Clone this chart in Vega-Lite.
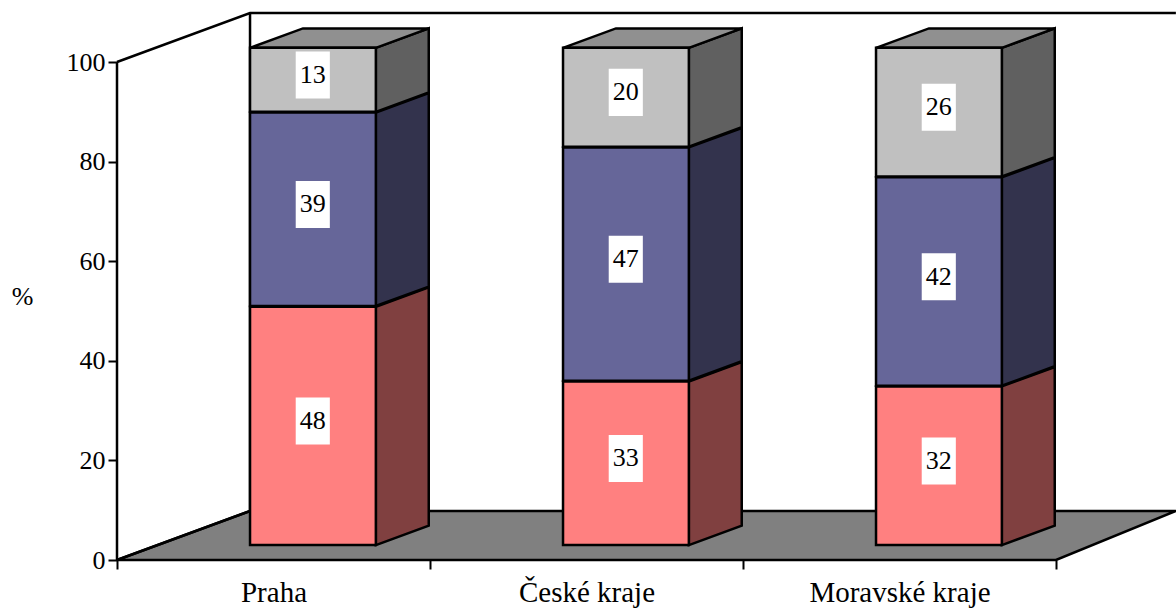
{
"$schema":"https://vega.github.io/schema/vega-lite/v6.json",
"width":1059,"height":560,
"padding":{"left":117,"top":0,"right":0,"bottom":51},
"autosize":{"type":"none"},
"background":"white",
"config":{"view":{"stroke":null},"font":"Liberation Serif"},
"datasets":{
"hodnoty":[
{"kraj":"Praha","rada":"A","hodnota":48},{"kraj":"Praha","rada":"B","hodnota":39},{"kraj":"Praha","rada":"C","hodnota":13},
{"kraj":"České kraje","rada":"A","hodnota":33},{"kraj":"České kraje","rada":"B","hodnota":47},{"kraj":"České kraje","rada":"C","hodnota":20},
{"kraj":"Moravské kraje","rada":"A","hodnota":32},{"kraj":"Moravské kraje","rada":"B","hodnota":42},{"kraj":"Moravské kraje","rada":"C","hodnota":26}
],
"podlaha":[{"sx":0,"a":0,"b":0},{"sx":0.425,"a":0,"b":9.84},{"sx":3,"a":0,"b":9.84},{"sx":3.383,"a":9.84,"b":9.84}],
"steny":[
{"hrana":"osa","sx":0,"v":0},{"hrana":"osa","sx":0,"v":100},
{"hrana":"horni","sx":0,"v":100},{"hrana":"horni","sx":0.425,"v":109.84},{"hrana":"horni","sx":3.383,"v":109.84},
{"hrana":"zadni","sx":0.425,"v":109.84},{"hrana":"zadni","sx":0.425,"v":9.84},
{"hrana":"spodni","sx":0,"v":0},{"hrana":"spodni","sx":0.425,"v":9.84}
]
},
"layer":[
{"data":{"name":"podlaha"},
 "mark":{"type":"area","fill":"#808080","stroke":"#000","strokeWidth":2.5},
 "encoding":{
  "x":{"field":"sx","type":"quantitative","scale":{"domain":[0,3.3834],"nice":false,"zero":false},
   "axis":{"title":null,"orient":"bottom","domain":false,"grid":false,"values":[0,0.5,1,1.5,2,2.5,3],
    "tickSize":{"expr":"datum.value % 1 === 0 ? 9 : 0"},"tickWidth":2,"tickColor":"#000",
    "labelExpr":"datum.value===0.5?'Praha':datum.value===1.5?'České kraje':datum.value===2.5?'Moravské kraje':''",
    "labelFont":"Liberation Serif","labelFontSize":29,"labelColor":"#000","labelPadding":18,"labelLimit":400,"labelFlush":false,"labelOverlap":false,"labelBound":false}},
  "y":{"field":"a","type":"quantitative","scale":{"domain":[0,112.45],"nice":false,"zero":false},
   "axis":{"title":"%","titleAngle":0,"titleFont":"Liberation Serif","titleFontSize":26,"titleFontWeight":"normal","titleColor":"#000","titleX":-95,"titleY":296,"titleBaseline":"middle",
    "domain":false,"grid":false,"values":[0,20,40,60,80,100],"tickSize":9,"tickWidth":2,"tickColor":"#000",
    "labelFont":"Liberation Serif","labelFontSize":26,"labelColor":"#000","labelPadding":3}},
  "y2":{"field":"b"}
 }},
{"data":{"name":"steny"},
 "mark":{"type":"line","stroke":"#000","strokeWidth":2.5},
 "encoding":{"x":{"field":"sx","type":"quantitative"},"y":{"field":"v","type":"quantitative"},"detail":{"field":"hrana"},"order":{"field":"sx"}}},
{"data":{"name":"hodnoty"},
 "transform":[
  {"stack":"hodnota","groupby":["kraj"],"sort":[{"field":"rada"}],"as":["v0","v1"]},
  {"calculate":"indexof(['Praha','České kraje','Moravské kraje'],datum.kraj)","as":"i"},
  {"calculate":"[0,1]","as":"k"},{"flatten":["k"]},
  {"calculate":"datum.i+0.827+datum.k*0.169","as":"sx"},
  {"calculate":"3+datum.v0+datum.k*3.9","as":"d"},
  {"calculate":"2.85+datum.v1+datum.k*3.9","as":"h"},
  {"calculate":"datum.kraj+datum.rada","as":"stena"}
 ],
 "mark":{"type":"area","stroke":"#000","strokeWidth":2.5},
 "encoding":{
  "x":{"field":"sx","type":"quantitative"},
  "y":{"field":"d","type":"quantitative"},"y2":{"field":"h"},
  "detail":{"field":"stena"},
  "fill":{"field":"rada","type":"nominal","legend":null,"scale":{"domain":["A","B","C"],"range":["#804040","#33334D","#606060"]}}
 }},
{"data":{"name":"hodnoty"},
 "transform":[
  {"stack":"hodnota","groupby":["kraj"],"sort":[{"field":"rada"}],"as":["v0","v1"]},
  {"filter":"datum.rada==='C'"},
  {"calculate":"indexof(['Praha','České kraje','Moravské kraje'],datum.kraj)","as":"i"},
  {"calculate":"[0,1,2,3]","as":"k"},{"flatten":["k"]},
  {"calculate":"datum.i+[0.425,0.594,0.827,0.996][datum.k]","as":"sx"},
  {"calculate":"2.85+datum.v1+[0,0,0,3.9][datum.k]","as":"d"},
  {"calculate":"2.85+datum.v1+[0,3.9,3.9,3.9][datum.k]","as":"h"}
 ],
 "mark":{"type":"area","stroke":"#000","strokeWidth":2.5,"fill":"#909090"},
 "encoding":{
  "x":{"field":"sx","type":"quantitative"},
  "y":{"field":"d","type":"quantitative"},"y2":{"field":"h"},
  "detail":{"field":"kraj"}
 }},
{"data":{"name":"hodnoty"},
 "transform":[
  {"stack":"hodnota","groupby":["kraj"],"sort":[{"field":"rada"}],"as":["v0","v1"]},
  {"calculate":"indexof(['Praha','České kraje','Moravské kraje'],datum.kraj)","as":"i"},
  {"calculate":"datum.i+0.425","as":"x0"},{"calculate":"datum.i+0.827","as":"x1"},
  {"calculate":"3+datum.v0","as":"d"},{"calculate":"2.85+datum.v1","as":"h"}
 ],
 "mark":{"type":"rect","stroke":"#000","strokeWidth":2.5},
 "encoding":{
  "x":{"field":"x0","type":"quantitative"},"x2":{"field":"x1"},
  "y":{"field":"d","type":"quantitative"},"y2":{"field":"h"},
  "fill":{"field":"rada","type":"nominal","legend":null,"scale":{"domain":["A","B","C"],"range":["#FF8080","#666699","#C0C0C0"]}}
 }},
{"data":{"name":"hodnoty"},
 "transform":[
  {"stack":"hodnota","groupby":["kraj"],"sort":[{"field":"rada"}],"as":["v0","v1"]},
  {"calculate":"indexof(['Praha','České kraje','Moravské kraje'],datum.kraj)","as":"i"},
  {"calculate":"datum.i+0.571","as":"x0"},{"calculate":"datum.i+0.680","as":"x1"},
  {"calculate":"3.9+(datum.v0+datum.v1)/2-4.72","as":"d"},{"calculate":"3.9+(datum.v0+datum.v1)/2+4.72","as":"h"}
 ],
 "mark":{"type":"rect","fill":"#fff","stroke":null},
 "encoding":{
  "x":{"field":"x0","type":"quantitative"},"x2":{"field":"x1"},
  "y":{"field":"d","type":"quantitative"},"y2":{"field":"h"}
 }},
{"data":{"name":"hodnoty"},
 "transform":[
  {"stack":"hodnota","groupby":["kraj"],"sort":[{"field":"rada"}],"as":["v0","v1"]},
  {"calculate":"indexof(['Praha','České kraje','Moravské kraje'],datum.kraj)","as":"i"},
  {"calculate":"datum.i+0.6255","as":"sx"},
  {"calculate":"3.9+(datum.v0+datum.v1)/2","as":"s"}
 ],
 "mark":{"type":"text","font":"Liberation Serif","fontSize":26,"color":"#000","baseline":"middle","align":"center"},
 "encoding":{
  "x":{"field":"sx","type":"quantitative"},
  "y":{"field":"s","type":"quantitative"},
  "text":{"field":"hodnota","type":"quantitative"}
 }}
],
"resolve":{"scale":{"fill":"independent"}}
}
